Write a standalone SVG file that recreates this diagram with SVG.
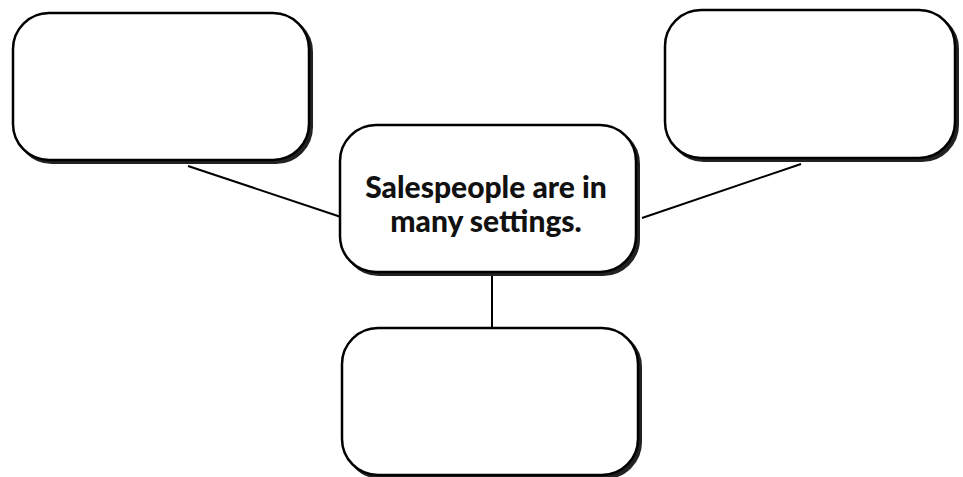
<svg xmlns="http://www.w3.org/2000/svg" width="963" height="477" viewBox="0 0 963 477">
<style>
.sh{fill:#222;stroke:#222;stroke-width:2}
.bx{fill:#fff;stroke:#000;stroke-width:2.5}
.ln{stroke:#000;stroke-width:2;fill:none}
.t{font-family:Lato,"Open Sans","Liberation Sans",sans-serif;font-weight:900;font-size:30px;fill:#111;text-anchor:middle}
</style>
<rect width="963" height="477" fill="#fff"/>
<g id="connectors">
<line class="ln" x1="188" y1="166" x2="341" y2="217"/>
<line class="ln" x1="642" y1="218" x2="801" y2="164"/>
<line class="ln" x1="492" y1="274" x2="492" y2="329"/>
</g>
<g id="node-top-left">
<rect class="sh" x="16" y="16" width="296" height="147" rx="36"/>
<rect class="bx" x="13" y="13" width="296" height="147" rx="36"/>
</g>
<g id="node-top-right">
<rect class="sh" x="668" y="13" width="290" height="148" rx="36"/>
<rect class="bx" x="665" y="10" width="290" height="148" rx="36"/>
</g>
<g id="node-center">
<rect class="sh" x="343" y="128" width="296" height="147" rx="36"/>
<rect class="bx" x="340" y="125" width="296" height="147" rx="36"/>
<text class="t" x="486" y="198">Salespeople are in</text>
<text class="t" x="486" y="232">many settings.</text>
</g>
<g id="node-bottom">
<rect class="sh" x="345" y="331" width="296" height="147" rx="36"/>
<rect class="bx" x="342" y="328" width="296" height="147" rx="36"/>
</g>
</svg>
